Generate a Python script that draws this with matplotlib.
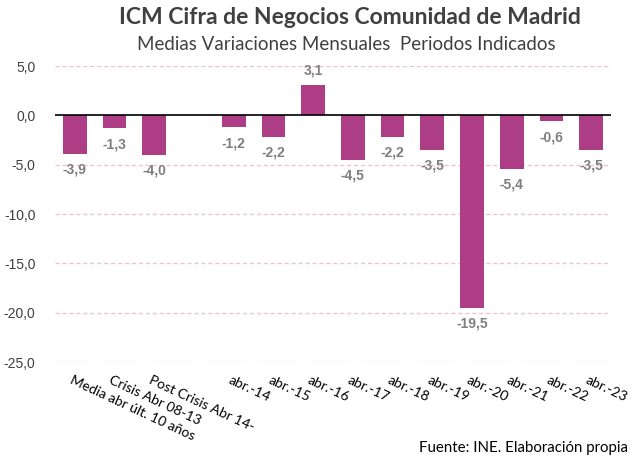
import matplotlib.pyplot as plt
import numpy as np

# ── Data ──────────────────────────────────────────────────────────────────────
categories = ["Media abr últ. 10 años", "Crisis Abr 08-13", "Post Crisis Abr 14-", "",
              "abr.-14", "abr.-15", "abr.-16", "abr.-17", "abr.-18",
              "abr.-19", "abr.-20", "abr.-21", "abr.-22", "abr.-23"]
values = [-3.9, -1.3, -4.0, np.nan,
          -1.2, -2.2, 3.1, -4.5, -2.2, -3.5, -19.5, -5.4, -0.6, -3.5]
y_ticks = [5, 0, -5, -10, -15, -20, -25]

bar_color = "#AD3E85"
label_color = "#7F7F7F"
text_color = "#404040"

fig = plt.figure(figsize=(6.34, 4.59), dpi=100)
ax = fig.add_axes([55 / 634, 1 - 362 / 459, 556 / 634, (362 - 66) / 459])

x = np.arange(len(categories))
ax.bar(x, values, width=0.6, color=bar_color, zorder=3)

ax.set_xlim(-0.5, len(categories) - 0.5)
ax.set_ylim(-25, 5)

# grid: dashed pink, zero line solid black
for yt in y_ticks:
    if yt == 0:
        ax.axhline(0, color="black", lw=1.2, zorder=4)
    else:
        ax.axhline(yt, color="#F2C0DC", lw=1, ls=(0, (3, 2)), zorder=1)

for s in ax.spines.values():
    s.set_visible(False)

ax.set_yticks(y_ticks)
ax.set_yticklabels([f"{v:.1f}".replace(".", ",") for v in y_ticks],
                   fontsize=10, color=text_color, family="Liberation Sans")
ax.tick_params(axis="both", length=0)
ax.tick_params(axis="y", pad=14)

ax.set_xticks(x)
ax.set_xticklabels([])
for xi, lab in zip(x, categories):
    ax.text(xi - 0.05, -26.2, lab, rotation=-25, rotation_mode="anchor",
            ha="left", va="top", fontsize=10, color="black", family="Lato")

# value labels
for xi, v in zip(x, values):
    if np.isnan(v):
        continue
    txt = f"{v:.1f}".replace(".", ",")
    if v >= 0:
        ax.text(xi, v + 0.7, txt, ha="center", va="bottom", fontsize=10,
                fontweight="bold", color=label_color, family="Liberation Sans")
    else:
        ax.text(xi, v - 0.9, txt, ha="center", va="top", fontsize=10,
                fontweight="bold", color=label_color, family="Liberation Sans")

fig.text(350 / 634, 1 - 18 / 459, "ICM Cifra de Negocios Comunidad de Madrid",
         ha="center", va="center", fontsize=16.5, fontweight="bold",
         color=text_color, family="Lato")
fig.text(346 / 634, 1 - 45 / 459, "Medias Variaciones Mensuales  Periodos Indicados",
         ha="center", va="center", fontsize=13.5, color=text_color, family="Lato")
fig.text(628 / 634, 1 - 448 / 459, "Fuente: INE. Elaboración propia",
         ha="right", va="center", fontsize=10.8, color="black", family="Lato")

fig.savefig("out.png", dpi=100)
